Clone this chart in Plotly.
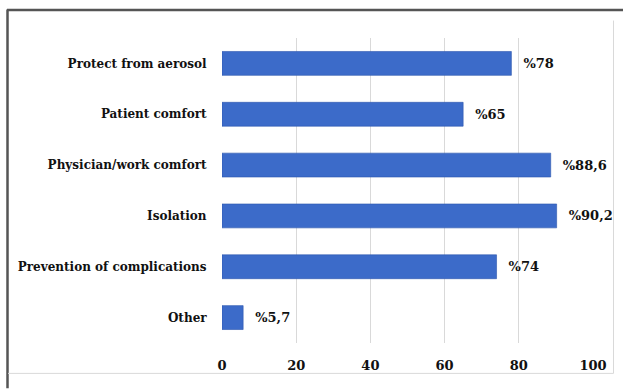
import plotly.graph_objects as go

categories = ["Protect from aerosol", "Patient comfort", "Physician/work comfort",
              "Isolation", "Prevention of complications", "Other"]
values = [78, 65, 88.6, 90.2, 74, 5.7]
labels = ["%78", "%65", "%88,6", "%90,2", "%74", "%5,7"]
tick_vals = [0, 20, 40, 60, 80, 100]

W, H = 623, 389
L, R, T, B = 222, 30, 37.5, 45.5
pw, ph = W - L - R, H - T - B

def px(x):
    return (x - L) / pw

def py(y):
    return (H - B - y) / ph

SERIF = "DejaVu Serif"
yfont = dict(family=SERIF, size=12, color="#111111", weight="bold")
nfont = dict(family=SERIF, size=13, color="#111111", weight="bold")

fig = go.Figure()
fig.add_trace(go.Bar(
    y=categories, x=values, orientation="h",
    text=["\u00a0\u00a0" + t for t in labels], textposition="outside",
    textfont=nfont,
    marker=dict(color="#3c6bc9", line=dict(color="#2c55ad", width=0.6)),
    width=0.47, cliponaxis=False,
))

frame = "#555555"
light = "#d9d9d9"
shapes = [
    dict(type="line", xref="paper", yref="paper", x0=px(7), x1=px(623), y0=py(9.5), y1=py(9.5),
         line=dict(color=frame, width=2.5)),
    dict(type="line", xref="paper", yref="paper", x0=px(7.5), x1=px(7.5), y0=py(9), y1=py(389),
         line=dict(color=frame, width=2.5)),
    dict(type="line", xref="paper", yref="paper", x0=px(613.5), x1=px(613.5), y0=py(20), y1=py(374),
         line=dict(color=light, width=1)),
    dict(type="line", xref="paper", yref="paper", x0=px(8), x1=px(613.5), y0=py(374), y1=py(374),
         line=dict(color=light, width=1)),
]

fig.update_layout(
    width=W, height=H,
    margin=dict(l=L, r=R, t=T, b=B),
    paper_bgcolor="white", plot_bgcolor="white",
    showlegend=False, shapes=shapes,
    font=dict(family=SERIF, size=12, color="#111111"),
    xaxis=dict(range=[0, 100], tickvals=tick_vals, showgrid=True, gridcolor=light, gridwidth=1,
               zeroline=False, showline=False, ticks="outside", ticklen=10, tickcolor="rgba(0,0,0,0)",
               tickfont=nfont, automargin=False),
    yaxis=dict(categoryorder="array", categoryarray=categories[::-1], showgrid=False,
               zeroline=False, showline=False, ticks="outside", ticklen=12, tickcolor="rgba(0,0,0,0)",
               tickfont=yfont, automargin=False),
)

fig.write_html("out.html")
